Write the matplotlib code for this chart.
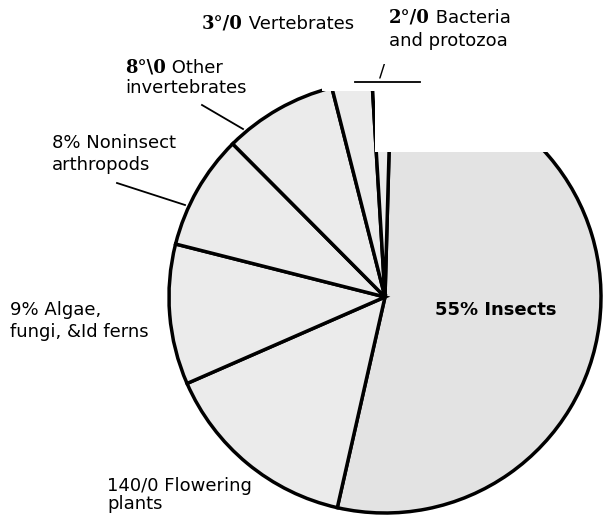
import matplotlib.pyplot as plt
from matplotlib.patches import Rectangle

# wedge shares as they are drawn in the picture (clockwise from the top)
groups = ["Insects", "Flowering plants", "Algae, fungi, and ferns",
          "Noninsect arthropods", "Other invertebrates", "Vertebrates",
          "Bacteria and protozoa"]
shares = [53.1, 14.9, 10.5, 8.6, 8.5, 3.0, 1.4]

# label texts as printed (scan text kept as it is)
prefixes = ["55% Insects", "140/0 Flowering", "9% Algae,", "8% Noninsect",
            "8°\\0", "3°/0", "2°/0"]
second_lines = ["", "plants", "fungi, &Id ferns", "arthropods",
                "invertebrates", "", "and protozoa"]

W, H = 603, 515
fig = plt.figure(figsize=(W / 100, H / 100), dpi=100)
ax = fig.add_axes([0, 0, 1, 1])

# pixel-like coordinates, y pointing down -> counterclock=True draws clockwise
wedges, _ = ax.pie(
    shares,
    startangle=-88.4,
    counterclock=True,
    center=(385, 297),
    radius=216,
    colors=["#e3e3e3"] + ["#ebebeb"] * 6,
    wedgeprops=dict(edgecolor="black", linewidth=2.5),
)
ax.set_xlim(0, W)
ax.set_ylim(H, 0)
ax.set_aspect("equal")
ax.axis("off")

# the scan is blank across the top of the pie
ax.add_patch(Rectangle((375, 0), 228, 152, facecolor="white", edgecolor="none", zorder=3))
ax.add_patch(Rectangle((322, 0), 53, 91, facecolor="white", edgecolor="none", zorder=3))

sans = "DejaVu Sans"
serif = "DejaVu Serif"
fs = 13


def label(x, y, text, **kw):
    return ax.text(x, y, text, fontsize=fs, family=sans, va="baseline",
                   ha="left", zorder=5, **kw)


def mixed(x, y, prefix, rest):
    # bold serif prefix followed by the sans text, as in the scan
    t = ax.text(x, y, prefix, fontsize=fs, family=serif, weight="bold",
                va="baseline", ha="left", zorder=5)
    ax.annotate(" " + rest, xy=(1, 0), xycoords=t, fontsize=fs, family=sans,
                va="bottom", ha="left", zorder=5)


label(435, 315, prefixes[0], weight="bold")
label(107, 491, prefixes[1])
label(107, 509, second_lines[1])
label(10, 315, prefixes[2])
label(10, 337, second_lines[2])
label(52, 148, prefixes[3])
label(52, 170, second_lines[3])
mixed(125, 73, prefixes[4], "Other")
label(125, 93, second_lines[4])
mixed(202, 29, prefixes[5], "Vertebrates")
mixed(389, 23, prefixes[6], "Bacteria")
label(389, 46, second_lines[6])

# leader lines
ax.plot([202, 243], [105, 129], color="black", lw=1.3, zorder=5)
ax.plot([117, 185], [183, 205], color="black", lw=1.3, zorder=5)
ax.plot([355, 420], [82, 82], color="black", lw=1.3, zorder=5)
label(379, 76, "/")

fig.savefig("out.png", dpi=100)
